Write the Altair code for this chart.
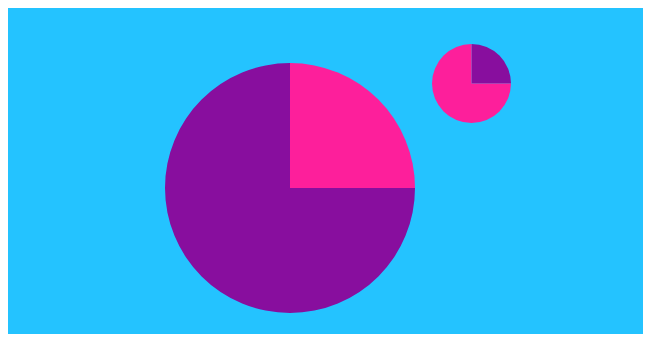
import altair as alt
import pandas as pd

# Big pie
big_labels = ["pink", "purple"]
big_values = [25, 75]
big_center = (282, 180)

# Small pie
small_labels = ["purple", "pink"]
small_values = [25, 75]
small_center = (463.5, 75.5)

W, H = 635, 326
colors = alt.Scale(domain=["pink", "purple"], range=["#fd1f9b", "#880e9e"])
xs = alt.Scale(domain=[0, W], nice=False, zero=False)
ys = alt.Scale(domain=[0, H], reverse=True, nice=False, zero=False)


def pie(labels, values, center, radius):
    df = pd.DataFrame({
        "label": labels,
        "value": values,
        "idx": list(range(len(labels))),
        "cx": [center[0]] * len(labels),
        "cy": [center[1]] * len(labels),
    })
    return alt.Chart(df).mark_arc(radius=radius, stroke=None).encode(
        theta=alt.Theta("value:Q", stack=True),
        order=alt.Order("idx:Q"),
        color=alt.Color("label:N", scale=colors, legend=None),
        x=alt.X("cx:Q", scale=xs, axis=None),
        y=alt.Y("cy:Q", scale=ys, axis=None),
    )


chart = alt.layer(
    pie(big_labels, big_values, big_center, 125),
    pie(small_labels, small_values, small_center, 39.5),
).properties(
    width=W, height=H, background="#24c3ff", padding=0,
    autosize=alt.AutoSizeParams(type="none"),
).configure_view(stroke=None)

chart.save("out.html", embed_options={"renderer": "svg", "actions": False})
